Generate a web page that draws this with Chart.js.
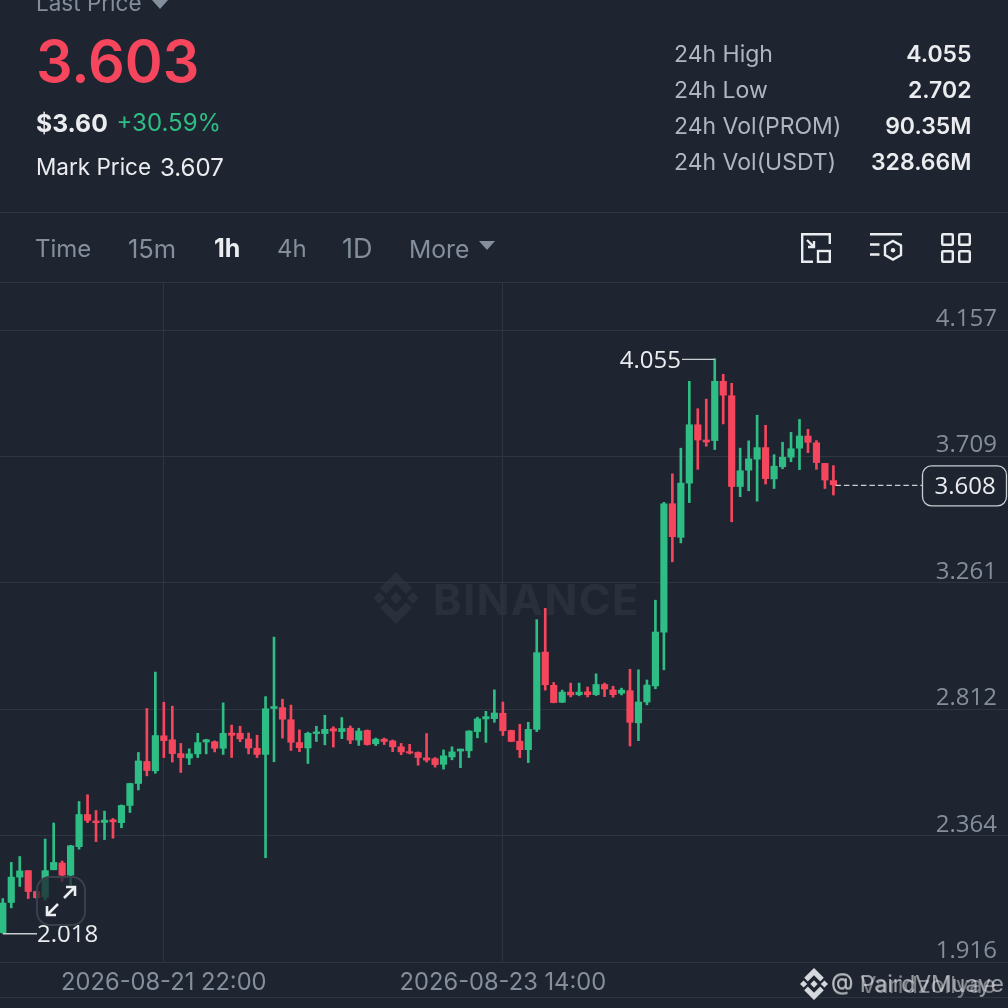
<!DOCTYPE html>
<html>
<head>
<meta charset="utf-8">
<script src="https://cdn.jsdelivr.net/npm/chart.js@4"></script>
<style>
  html, body { margin: 0; padding: 0; background: #1f2530; overflow: hidden; }
  body { width: 1008px; height: 1008px; position: relative; font-family: Inter, sans-serif; color: #eaecef; }
  .t { position: absolute; white-space: nowrap; line-height: 1; }
  .line { position: absolute; left: 0; width: 1008px; height: 1px; background: #2f3540; }
  .gray { color: #848e9c; }
  svg { position: absolute; overflow: visible; }
  canvas { position: absolute; left: 0; top: 0; }
</style>
</head>
<body>
<svg id="wmLogo" style="left:370px;top:572px" width="52" height="52" viewBox="0 0 32 32"><path fill="#2a303b" d="M9.8 13.4 16 7.2l6.2 6.2 3.6-3.6L16 0 6.2 9.8l3.6 3.6zM2 16l3.6-3.6L9.2 16l-3.6 3.6L2 16zm7.8 2.6L16 24.8l6.2-6.2 3.6 3.6L16 32l-9.8-9.8 3.6-3.6zM22.8 16l3.6-3.6L30 16l-3.6 3.6-3.6-3.6zm-3.1 0L16 12.3 13.3 15l-.3.3-.6.6L16 19.7 19.7 16z"/></svg>
<div class="t" style="left:433px;top:578px;font-size:43px;font-weight:700;letter-spacing:1.5px;color:#2a303b">BINANCE</div>

<canvas id="chart" width="1008" height="1008"></canvas>

<div class="t gray" style="left:36px;top:-8px;font-size:22.5px">Last Price</div>
<svg style="left:152px;top:0" width="16" height="10"><path d="M0 0H16L8 9Z" fill="#848e9c"/></svg>
<div class="t" style="left:36px;top:33px;font-size:57.5px;font-weight:600;color:#f6465d">3.603</div>
<div class="t" style="left:36px;top:111px;font-size:24.7px;font-weight:700">$3.60</div>
<div class="t" style="left:116.5px;top:111px;font-size:24px;color:#2ebd85">+30.59%</div>
<div class="t" style="left:36px;top:156px;font-size:22.5px">Mark Price</div>
<div class="t" style="left:160px;top:155.5px;font-size:24px">3.607</div>

<div class="t" style="left:674px;top:43px;font-size:23px;color:#b0b6c0">24h High</div>
<div class="t" style="left:674px;top:79px;font-size:23px;color:#b0b6c0">24h Low</div>
<div class="t" style="left:674px;top:115px;font-size:23px;color:#b0b6c0">24h Vol(PROM)</div>
<div class="t" style="left:674px;top:151px;font-size:23px;color:#b0b6c0">24h Vol(USDT)</div>
<div class="t" style="right:36.5px;top:43px;font-size:23px;font-weight:600">4.055</div>
<div class="t" style="right:36.5px;top:79px;font-size:23px;font-weight:600">2.702</div>
<div class="t" style="right:36.5px;top:115px;font-size:23px;font-weight:600">90.35M</div>
<div class="t" style="right:36.5px;top:151px;font-size:23px;font-weight:600">328.66M</div>

<div class="line" style="top:212px"></div>
<div class="t gray" style="left:35px;top:237px;font-size:24px">Time</div>
<div class="t gray" style="left:128px;top:236px;font-size:25.5px">15m</div>
<div class="t" style="left:214px;top:236px;font-size:25px;font-weight:700">1h</div>
<div class="t gray" style="left:277px;top:237px;font-size:24px">4h</div>
<div class="t gray" style="left:342px;top:235px;font-size:27px">1D</div>
<div class="t gray" style="left:409px;top:236.5px;font-size:24.7px">More</div>
<svg style="left:479px;top:241px" width="16" height="10"><path d="M0 0H16L8 9Z" fill="#848e9c"/></svg>

<svg style="left:801px;top:233px" width="30" height="30" fill="none" stroke="#eaecef" stroke-width="2.4">
  <path d="M12 28.8H1.2V1.2H28.8V11"/><rect x="17" y="18" width="11.8" height="10.8"/><path d="M6 7L13 14M13 8V14H7"/>
</svg>
<svg style="left:870px;top:233px" width="32" height="28" fill="none" stroke="#eaecef" stroke-width="2.4">
  <path d="M0 1.2H32M0 11.5H9.5M0 21.5H9.5"/><path d="M23 8L31 12.5V22L23 26.5L15 22V12.5Z"/><circle cx="23" cy="17.2" r="2.2" fill="#eaecef" stroke="none"/>
</svg>
<svg style="left:941px;top:233px" width="30" height="30" fill="none" stroke="#eaecef" stroke-width="2.4">
  <rect x="1.2" y="1.2" width="10.6" height="10.6" rx="1"/><rect x="18.2" y="1.2" width="10.6" height="10.6" rx="1"/>
  <rect x="1.2" y="18.2" width="10.6" height="10.6" rx="1"/><rect x="18.2" y="18.2" width="10.6" height="10.6" rx="1"/>
</svg>
<div class="line" style="top:282px"></div>
<div class="line" style="top:997px"></div>

<div style="position:absolute;left:36px;top:876px;width:46px;height:46px;border:2px solid #3a404b;border-radius:14px;background:rgba(31,37,48,.75)"></div>
<svg style="left:43.5px;top:884px" width="34" height="34" fill="none" stroke="#eaecef" stroke-width="2.6">
  <path d="M20 14L31 3M22 3H31V12M14 20L3 31M3 22V31H12"/>
</svg>

<svg style="left:798px;top:968px" width="32" height="32" viewBox="0 0 32 32"><path fill="#d5d8dc" d="M9.8 13.4 16 7.2l6.2 6.2 3.6-3.6L16 0 6.2 9.8l3.6 3.6zM2 16l3.6-3.6L9.2 16l-3.6 3.6L2 16zm7.8 2.6L16 24.8l6.2-6.2 3.6 3.6L16 32l-9.8-9.8 3.6-3.6zM22.8 16l3.6-3.6L30 16l-3.6 3.6-3.6-3.6zm-3.1 0L16 12.3 13.3 15l-.3.3-.6.6L16 19.7 19.7 16z"/></svg>
<div class="t" style="left:831px;top:973px;font-size:23px;color:rgba(234,236,239,.6)">@ PairdVMuaye</div>
<div class="t" style="left:831px;top:973px;font-size:23.5px;color:rgba(234,236,239,.45)">@ Varidzollyae</div>

<script>
const opens = [2.020,2.127,2.217,2.240,2.166,2.146,2.243,2.267,2.224,2.325,2.439,2.416,2.411,2.420,2.410,2.471,2.549,2.627,2.594,2.718,2.704,2.655,2.639,2.654,2.696,2.697,2.674,2.728,2.727,2.707,2.674,2.652,2.815,2.818,2.775,2.694,2.675,2.726,2.726,2.743,2.733,2.745,2.703,2.737,2.690,2.706,2.700,2.679,2.662,2.659,2.640,2.637,2.617,2.643,2.664,2.665,2.733,2.778,2.779,2.798,2.737,2.699,2.669,2.741,3.015,2.897,2.837,2.873,2.864,2.874,2.864,2.900,2.881,2.869,2.878,2.764,2.838,2.895,3.086,3.541,3.422,3.614,3.821,3.767,3.765,3.975,3.924,3.602,3.660,3.699,3.740,3.629,3.672,3.706,3.738,3.781,3.757,3.684,3.623];
const closes = [2.125,2.217,2.239,2.166,2.144,2.240,2.269,2.224,2.328,2.439,2.418,2.410,2.419,2.413,2.471,2.549,2.629,2.595,2.719,2.701,2.655,2.641,2.654,2.694,2.704,2.674,2.727,2.720,2.707,2.675,2.652,2.814,2.822,2.777,2.695,2.676,2.727,2.732,2.741,2.735,2.744,2.703,2.735,2.687,2.706,2.698,2.679,2.661,2.657,2.641,2.632,2.616,2.647,2.661,2.671,2.735,2.778,2.786,2.799,2.736,2.698,2.669,2.741,3.013,2.899,2.836,2.873,2.863,2.873,2.864,2.900,2.884,2.864,2.880,2.766,2.838,2.898,3.086,3.541,3.424,3.614,3.821,3.767,3.760,3.975,3.926,3.602,3.658,3.700,3.740,3.630,3.674,3.706,3.736,3.781,3.759,3.687,3.625,3.608];
const highs = [2.141,2.269,2.290,2.240,2.168,2.352,2.409,2.274,2.330,2.485,2.509,2.453,2.451,2.425,2.473,2.550,2.659,2.815,2.944,2.837,2.823,2.691,2.672,2.727,2.706,2.700,2.835,2.756,2.752,2.728,2.720,2.857,3.068,2.848,2.827,2.739,2.731,2.752,2.791,2.750,2.783,2.753,2.745,2.739,2.710,2.710,2.703,2.691,2.688,2.661,2.726,2.641,2.668,2.679,2.671,2.736,2.784,2.805,2.881,2.838,2.738,2.759,2.766,3.130,3.170,2.907,2.880,2.905,2.905,2.891,2.938,2.905,2.894,2.887,2.954,2.952,2.916,3.199,3.546,3.647,3.738,3.975,3.878,3.912,4.055,4.000,3.968,3.738,3.764,3.855,3.819,3.715,3.759,3.794,3.840,3.805,3.765,3.684,3.676];
const lows = [2.018,2.108,2.184,2.141,2.141,2.136,2.243,2.201,2.190,2.316,2.410,2.343,2.350,2.355,2.392,2.446,2.526,2.576,2.585,2.641,2.625,2.588,2.616,2.641,2.654,2.661,2.652,2.641,2.697,2.654,2.641,2.286,2.626,2.710,2.666,2.662,2.620,2.698,2.686,2.678,2.708,2.690,2.684,2.685,2.683,2.687,2.662,2.651,2.654,2.614,2.625,2.607,2.600,2.633,2.605,2.641,2.711,2.695,2.766,2.719,2.697,2.641,2.623,2.733,2.880,2.835,2.836,2.856,2.860,2.856,2.861,2.857,2.855,2.863,2.682,2.701,2.828,2.885,2.952,3.335,3.402,3.545,3.663,3.745,3.733,3.824,3.477,3.566,3.587,3.550,3.611,3.595,3.665,3.690,3.662,3.722,3.663,3.595,3.572];

const yTicks = [4.157, 3.709, 3.261, 2.812, 2.364, 1.916];
const xTickIndex = [19, 59];
const xTickLabels = ["2026-08-21 22:00", "2026-08-23 14:00"];
const highMark = { index: 84, value: 4.055 };
const lowMark = { index: 0, value: 2.018 };
const lastPrice = { index: 98, value: 3.608 };

const UP = "#2ebd85";
const DOWN = "#f6465d";
const colors = closes.map((c, i) => (c >= opens[i] ? UP : DOWN));

// leader lines, min/max labels and the last price box
const marks = {
  id: "marks",
  afterDatasetsDraw(chart) {
    const ctx = chart.ctx;
    const x = chart.scales.x, y = chart.scales.y;
    ctx.save();
    ctx.font = "24px 'Open Sans'";
    ctx.textBaseline = "middle";
    ctx.strokeStyle = "#c9ccd1";
    ctx.lineWidth = 1.3;

    let py = y.getPixelForValue(highMark.value);
    ctx.beginPath();
    ctx.moveTo(x.getPixelForValue(highMark.index), py + 0.5);
    ctx.lineTo(682, py + 0.5);
    ctx.stroke();
    ctx.fillStyle = "#eaecef";
    ctx.textAlign = "right";
    ctx.fillText(highMark.value.toFixed(3), 681, py + 2);

    py = y.getPixelForValue(lowMark.value);
    ctx.beginPath();
    ctx.moveTo(x.getPixelForValue(lowMark.index), py + 0.5);
    ctx.lineTo(37, py + 0.5);
    ctx.stroke();
    ctx.textAlign = "left";
    ctx.fillText(lowMark.value.toFixed(3), 37, py + 2);

    py = y.getPixelForValue(lastPrice.value);
    ctx.setLineDash([5.5, 3]);
    ctx.beginPath();
    ctx.moveTo(x.getPixelForValue(lastPrice.index) + 2, py + 0.5);
    ctx.lineTo(922, py + 0.5);
    ctx.stroke();
    ctx.setLineDash([]);
    ctx.beginPath();
    ctx.roundRect(922.5, py - 19, 84, 40, 9);
    ctx.fillStyle = "#1f2530";
    ctx.fill();
    ctx.stroke();
    ctx.fillStyle = "#eaecef";
    ctx.textAlign = "center";
    ctx.fillText(lastPrice.value.toFixed(3), 965, py + 2);
    ctx.restore();
  }
};

new Chart(document.getElementById("chart"), {
  type: "bar",
  data: {
    datasets: [
      {
        data: lows.map((l, i) => ({ x: i, y: [l, highs[i]] })),
        backgroundColor: colors,
        barThickness: 2,
        grouped: false,
        order: 2
      },
      {
        data: opens.map((o, i) => ({ x: i, y: [o, closes[i]] })),
        backgroundColor: colors,
        barThickness: 6.5,
        grouped: false,
        order: 1
      }
    ]
  },
  options: {
    responsive: false,
    animation: false,
    layout: { padding: { top: 283, left: 0, right: 0, bottom: 0 } },
    plugins: { legend: { display: false }, tooltip: { enabled: false } },
    scales: {
      x: {
        type: "linear",
        offset: false,
        min: -0.33,
        max: 118.6,
        afterBuildTicks(s) { s.ticks = xTickIndex.map(v => ({ value: v })); },
        afterFit(s) { s.height = 46; },
        border: { display: false },
        grid: { color: "#2f3540", drawTicks: false, offset: false },
        ticks: {
          autoSkip: false,
          maxRotation: 0,
          padding: 7,
          color: "#848e9c",
          font: { family: "Inter", size: 23.7 },
          callback: v => xTickLabels[xTickIndex.indexOf(v)]
        }
      },
      y: {
        position: "right",
        min: 1.916,
        max: 4.3237,
        afterBuildTicks(s) { s.ticks = yTicks.map(v => ({ value: v })); },
        afterFit(s) { s.width = 0; },
        border: { display: false },
        grid: { color: "#2f3540", drawTicks: false },
        ticks: {
          mirror: true,
          padding: -11,
          labelOffset: -11,
          color: "#848e9c",
          font: { family: "Open Sans", size: 24 },
          callback: v => v.toFixed(3)
        }
      }
    }
  },
  plugins: [marks]
});
</script>
</body>
</html>
